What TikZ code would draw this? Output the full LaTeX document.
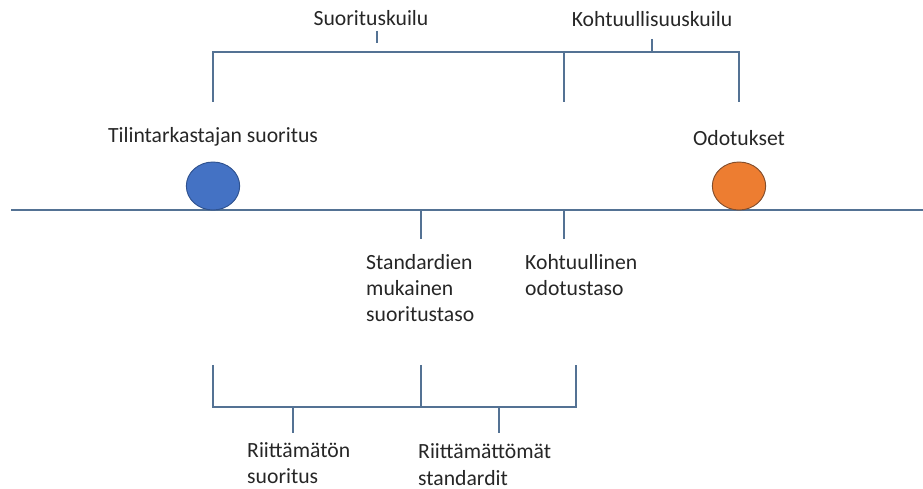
\documentclass[tikz,border=0pt]{standalone}
\usepackage{fontspec}
\setmainfont{Carlito}
\usepackage{tikz}
\usetikzlibrary{shapes.geometric, positioning}
\definecolor{axisline}{RGB}{84, 114, 148}
\definecolor{dotblue}{RGB}{68, 114, 196}
\definecolor{dotblueedge}{RGB}{47, 82, 143}
\definecolor{dotorange}{RGB}{237, 125, 49}
\definecolor{dotorangeedge}{RGB}{130, 78, 45}

\begin{document}
\begin{tikzpicture}[
    x=0.03cm, y=-0.03cm,
    ln/.style={draw=axisline, line width=1.1pt},
    dot/.style={
      ellipse, line width=0.8pt,
      minimum width=1.6cm, minimum height=1.44cm
    },
    lbl/.style={
      font=\fontsize{18.5}{22.6}\selectfont, text=black!85,
      inner sep=0pt, align=left
    }
  ]
  \useasboundingbox (0,0) rectangle (923,489);

  % ── Axis with the two levels ───────────────────────────────────
  \coordinate (axL) at (11, 210);
  \coordinate (axR) at (923, 210);
  \draw[ln] (axL) -- (axR);

  \node[dot, fill=dotblue, draw=dotblueedge]     (perf)   at (213, 186) {};
  \node[dot, fill=dotorange, draw=dotorangeedge] (expect) at (739, 186) {};

  \node[lbl, anchor=base] (perflbl)   at (213, 143) {Tilintarkastajan suoritus};
  \node[lbl, anchor=base] (expectlbl) at (739, 146) {Odotukset};

  % ── Marks below the axis ───────────────────────────────────────
  \coordinate (stdtop) at (421, 210);
  \coordinate (stdbot) at (421, 239);
  \coordinate (rsntop) at (564, 210);
  \coordinate (rsnbot) at (564, 239);
  \draw[ln] (stdtop) -- (stdbot);
  \draw[ln] (rsntop) -- (rsnbot);

  % (base anchor sits on the last line)
  \node[lbl, anchor=base west] (stdlbl) at (366, 322)
    {Standardien\\mukainen\\suoritustaso};
  \node[lbl, anchor=base west] (rsnlbl) at (525, 296)
    {Kohtuullinen\\odotustaso};

  % ── Upper bracket: the two gaps ────────────────────────────────
  \coordinate (ua) at (213, 52);
  \coordinate (ub) at (564, 52);
  \coordinate (uc) at (739, 52);
  \coordinate (ua') at (213, 102);
  \coordinate (ub') at (564, 102);
  \coordinate (uc') at (739, 102);
  \draw[ln] (ua') -- (ua) -- (uc) -- (uc');
  \draw[ln] (ub) -- (ub');

  \coordinate (gap1) at (377, 43);
  \coordinate (gap1top) at (377, 31);
  \coordinate (gap2) at (652, 52);
  \coordinate (gap2top) at (652, 39);
  \draw[ln, line width=0.9pt] (gap1top) -- (gap1);
  \draw[ln, line width=0.9pt] (gap2top) -- (gap2);

  \node[lbl, anchor=base] (gap1lbl) at (371, 26) {Suorituskuilu};
  \node[lbl, anchor=base] (gap2lbl) at (652, 27) {Kohtuullisuuskuilu};

  % ── Lower bracket: parts of the performance gap ────────────────
  \coordinate (la)  at (213, 407);
  \coordinate (lb)  at (421, 407);
  \coordinate (lc)  at (576, 407);
  \coordinate (la') at (213, 365);
  \coordinate (lb') at (421, 365);
  \coordinate (lc') at (576, 365);
  \draw[ln] (la') -- (la) -- (lc) -- (lc');
  \draw[ln] (lb') -- (lb);

  \coordinate (part1) at (293, 407);
  \coordinate (part1bot) at (293, 433);
  \coordinate (part2) at (499, 407);
  \coordinate (part2bot) at (499, 433);
  \draw[ln] (part1) -- (part1bot);
  \draw[ln] (part2) -- (part2bot);

  \node[lbl, anchor=base west] (part1lbl) at (247, 483.5)
    {Riittämätön\\suoritus};
  \node[lbl, anchor=base west] (part2lbl) at (418, 485)
    {Riittämättömät\\standardit};

\end{tikzpicture}
\end{document}
